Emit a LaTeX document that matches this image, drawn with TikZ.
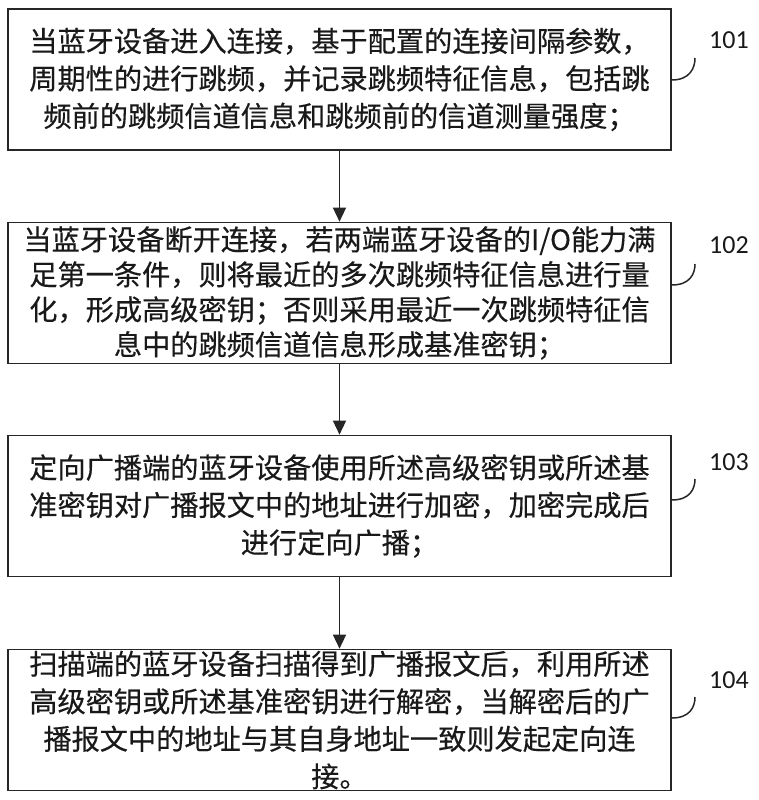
\documentclass[tikz,border=0pt]{standalone}
\usepackage{fontspec}
\setmainfont[FakeBold=0.4]{Noto Sans CJK SC}
\newfontfamily\labelfont{Carlito}
\usetikzlibrary{arrows.meta}
\begin{document}
\begin{tikzpicture}[x=1pt,y=-1pt,
  stepbox/.style={draw=black!85, line width=1.6pt, minimum width=663pt, minimum height=141pt,
    inner sep=0pt, align=center, text=black!90},
  normalsp/.style={font=\fontsize{28.2}{37.5}\selectfont},
  tightsp/.style={font=\fontsize{28.2}{35}\selectfont},
  conn/.style={line width=1.3pt, draw=black!85, -{Triangle[length=14pt,width=13pt]}},
  hook/.style={line width=1.5pt, draw=black!85},
  lab/.style={font=\labelfont\fontsize{26}{26}\selectfont, inner sep=0pt, text=black!90}]
\useasboundingbox (0,0) rectangle (759,800);

\node[stepbox, normalsp] (b1) at (339.5,79.5) {当蓝牙设备进入连接，基于配置的连接间隔参数，\\周期性的进行跳频，并记录跳频特征信息，包括跳\\频前的跳频信道信息和跳频前的信道测量强度；};
\node[stepbox, tightsp] (b2) at (339.5,293) {当蓝牙设备断开连接，若两端蓝牙设备的I/O能力满\\足第一条件，则将最近的多次跳频特征信息进行量\\化，形成高级密钥；否则采用最近一次跳频特征信\\息中的跳频信道信息形成基准密钥；};
\node[stepbox, normalsp] (b3) at (339.5,506) {定向广播端的蓝牙设备使用所述高级密钥或所述基\\准密钥对广播报文中的地址进行加密，加密完成后\\进行定向广播；};
\node[stepbox, normalsp] (b4) at (339.5,720) {扫描端的蓝牙设备扫描得到广播报文后，利用所述\\高级密钥或所述基准密钥进行解密，当解密后的广\\播报文中的地址与其自身地址一致则发起定向连\\接。};

\draw[conn] (b1) -- (b2);
\draw[conn] (b2) -- (b3);
\draw[conn] (b3) -- (b4);

\coordinate (h1) at (695,58);
\coordinate (h2) at (695,264);
\coordinate (h3) at (695,479);
\coordinate (h4) at (695,697);
\draw[hook] ([yshift=-0.5pt]b1.east) .. controls +(18,0) and +(0,10) .. (h1);
\draw[hook] ([yshift=8pt]b2.east) .. controls +(18,0) and +(0,10) .. (h2);
\draw[hook] ([yshift=6pt]b3.east) .. controls +(18,0) and +(0,10) .. (h3);
\draw[hook] ([yshift=2pt]b4.east) .. controls +(18,0) and +(0,10) .. (h4);

\node[lab] (l1) at (729,40) {101};
\node[lab] (l2) at (729,245) {102};
\node[lab] (l3) at (729,462) {103};
\node[lab] (l4) at (729,680) {104};
\end{tikzpicture}
\end{document}
